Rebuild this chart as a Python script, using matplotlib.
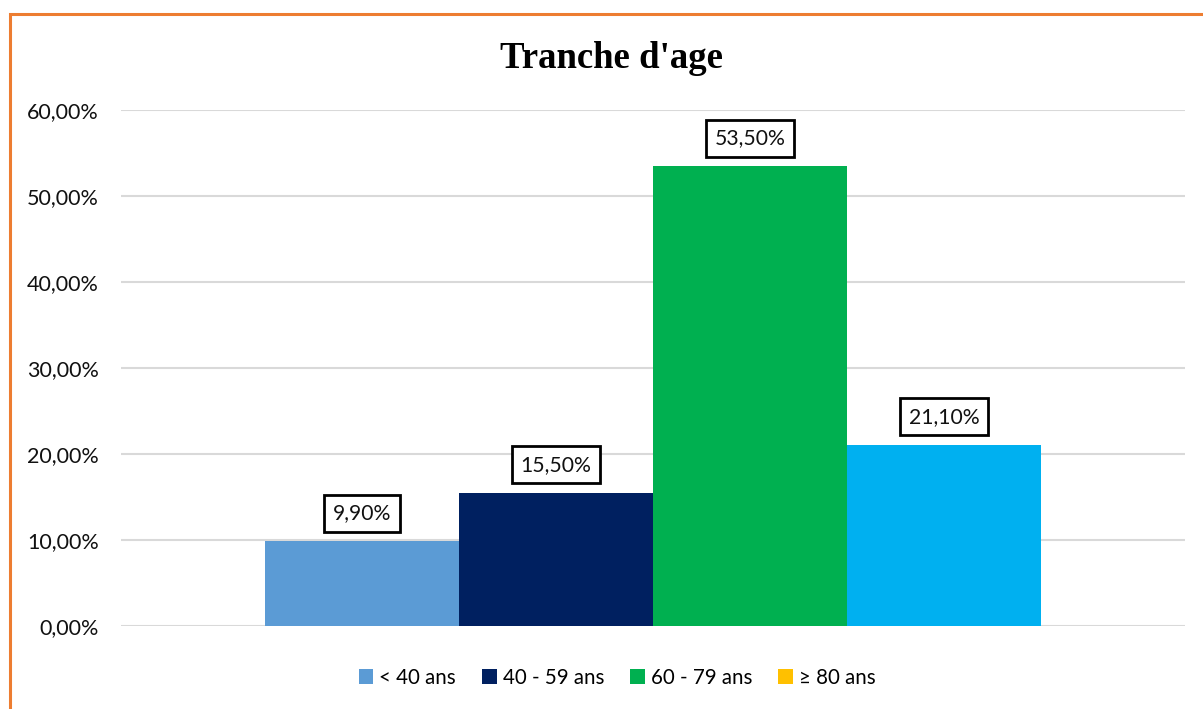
import matplotlib
matplotlib.use("Agg")
import matplotlib.pyplot as plt
from matplotlib.patches import Rectangle, Patch
from matplotlib.ticker import FuncFormatter

categories = ["< 40 ans", "40 - 59 ans", "60 - 79 ans", "≥ 80 ans"]
values = [9.90, 15.50, 53.50, 21.10]
bar_colors = ["#5B9BD5", "#002060", "#00B050", "#00B0F0"]
legend_colors = ["#5B9BD5", "#002060", "#00B050", "#FFC000"]
y_ticks = [0, 10, 20, 30, 40, 50, 60]

W, H = 1203, 709
fig = plt.figure(figsize=(W / 100, H / 100), dpi=100)
plt.rcParams["font.family"] = ["Lato", "DejaVu Sans"]

# axes placed in pixel coordinates
x0, x1 = 121, 1185
y_top, y_bot = 110, 626
ax = fig.add_axes([x0 / W, 1 - y_bot / H, (x1 - x0) / W, (y_bot - y_top) / H])

n = len(values)
group_w = 776 / (x1 - x0)
bw = group_w / n
start = 0.5 - group_w / 2
for i, (v, c) in enumerate(zip(values, bar_colors)):
    xc = start + bw * (i + 0.5)
    ax.bar(xc, v, width=bw, color=c, zorder=3)
    ax.annotate(f"{v:.2f}%".replace(".", ","), xy=(xc, v), xytext=(0, 20),
                textcoords="offset points", ha="center", va="center",
                fontsize=15.2, color="#111111", zorder=4,
                bbox=dict(boxstyle="square,pad=0.4", fc="white", ec="black", lw=2))

ax.set_xlim(0, 1)
ax.set_ylim(0, 60)
ax.set_yticks(y_ticks)
ax.yaxis.set_major_formatter(FuncFormatter(lambda v, p: f"{v:.2f}%".replace(".", ",")))
ax.tick_params(axis="y", length=0, pad=16, labelsize=15.5, labelcolor="#111111")
ax.set_xticks([])
ax.grid(axis="y", color="#D9D9D9", lw=1.5, zorder=0)
for s in ax.spines.values():
    s.set_visible(False)

fig.text(612 / W, 1 - 58 / H, "Tranche d'age", ha="center", va="center",
         fontsize=26.5, fontweight="bold", family=["Liberation Serif", "DejaVu Serif"])

handles = [Patch(facecolor=c, edgecolor="none") for c in legend_colors]
fig.legend(handles, categories, loc="center", bbox_to_anchor=(617 / W, 1 - 678 / H),
           ncol=4, frameon=False, fontsize=14.8, handlelength=0.72, handleheight=0.72,
           handletextpad=0.3, columnspacing=1.25)

# outer orange frame
fig.patches.append(Rectangle((10 / W, -0.1), 1.2, 1 - 14 / H + 0.1, transform=fig.transFigure,
                             fill=False, ec="#ED7D31", lw=2.2))

fig.savefig("out.png", dpi=100)
